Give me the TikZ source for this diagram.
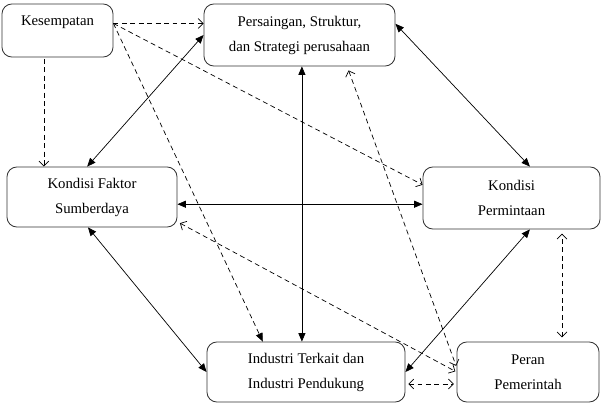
\documentclass[tikz,border=0pt]{standalone}
\usepackage{fontspec}
\setmainfont{Liberation Serif}
\usetikzlibrary{arrows.meta}

\tikzset{
  isi/.tip={Triangle[length=6pt,width=5pt]},
  buka/.tip={Straight Barb[length=3.5pt,width=7pt]},
}

\begin{document}
\begin{tikzpicture}[x=0.025cm, y=-0.025cm,
  faktor/.style={draw=black!80, line width=0.6pt, rounded corners=7pt, align=center, inner sep=0pt,
    font=\fontsize{10.5}{17.8}\selectfont},
  dua/.style={line width=0.5pt, {isi}-{isi}},
  putus/.style={line width=0.5pt, dash pattern=on 3.5pt off 2.5pt}]
  \useasboundingbox (0,0) rectangle (602,406);

  \node[faktor, minimum width=2.775cm, minimum height=1.325cm, text height=8pt, text depth=15pt] (kes) at (57.5,30.5) {Kesempatan};
  \node[faktor, minimum width=4.775cm, minimum height=1.55cm] (pers) at (299.5,35) {Persaingan, Struktur,\\dan Strategi perusahaan};
  \node[faktor, minimum width=4.25cm, minimum height=1.5cm] (kf) at (92,197) {Kondisi Faktor\\Sumberdaya};
  \node[faktor, minimum width=4.425cm, minimum height=1.55cm] (perm) at (511.5,198) {Kondisi\\Permintaan};
  \node[faktor, minimum width=4.95cm, minimum height=1.5cm] (ind) at (306,372) {Industri Terkait dan\\Industri Pendukung};
  \node[faktor, minimum width=3.55cm, minimum height=1.5cm] (peran) at (528,372) {Peran\\Pemerintah};

  % pengaruh kesempatan
  \coordinate (kesout) at ([yshift=5pt]kes.east);
  \draw[putus, -{buka}] (kesout) -- (kesout -| pers.west);
  \draw[putus, -{buka}, shorten <=1pt] ([xshift=-0.34cm]kes.south) -- ([xshift=-0.34cm]kes.south |- kf.north);
  \draw[putus, -{buka}] (kesout) -- ([yshift=0.33cm]perm.west);
  \draw[putus, -{isi}] (kesout) -- ([xshift=-1.08cm]ind.north);

  % hubungan antar faktor
  \draw[dua] (pers.west) -- ([xshift=-0.12cm]kf.north);
  \draw[dua] ([yshift=0.28cm]pers.east) -- ([xshift=0.46cm]perm.north);
  \draw[dua] ([xshift=0.06cm]pers.south) -- ([xshift=0.06cm]pers.south |- ind.north);
  \draw[dua] ([yshift=-0.18cm]kf.east) -- ([yshift=-0.18cm]kf.east -| perm.west);
  \draw[dua] ([xshift=-0.1cm]kf.south) -- (ind.west);
  \draw[dua] ([xshift=0.46cm]perm.south) -- (ind.east);

  % peran pemerintah
  \draw[putus, {buka}-{buka}, shorten <=3pt, shorten >=3pt] ([xshift=0.85cm]peran.north) -- ([xshift=0.85cm]peran.north |- perm.south);
  \draw[putus, {buka}-{buka}, shorten <=2pt, shorten >=2pt] ([yshift=-0.3cm]ind.east) -- ([yshift=-0.3cm]ind.east -| peran.west);
  \draw[putus, {buka}-{buka}, shorten <=3pt, shorten >=1pt] ([xshift=1.19cm]pers.south) -- ([yshift=0.12cm]peran.west);
  \draw[putus, {buka}-{buka}, shorten <=2pt, shorten >=1pt] ([yshift=-0.62cm]kf.east) -- (peran.west);
\end{tikzpicture}
\end{document}
